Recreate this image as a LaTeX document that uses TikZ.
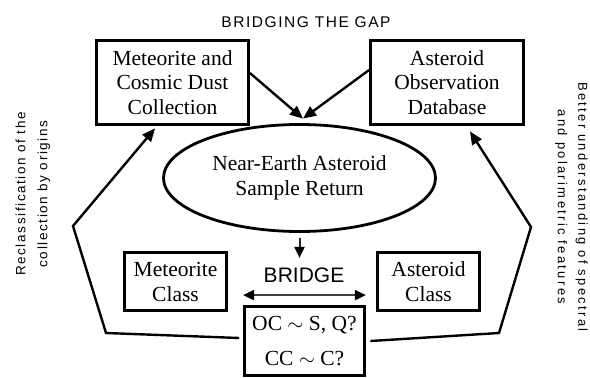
\documentclass[tikz,border=0pt]{standalone}
\usepackage{fontspec}
\setmainfont{Liberation Serif}
\setsansfont{Liberation Sans}
\newfontfamily\spacedtitle[LetterSpace=10]{Liberation Sans}
\newfontfamily\spacedleft[LetterSpace=12]{Liberation Sans}
\newfontfamily\spacedright[LetterSpace=18]{Liberation Sans}
\usetikzlibrary{arrows.meta,shapes.geometric}
\begin{document}
\begin{tikzpicture}[x=1pt,y=-1pt,
  box/.style={draw, line width=2.8pt, inner sep=0pt, align=center,
    font=\fontsize{21.5}{24.5}\selectfont},
  arr/.style={line width=2.4pt, -{Triangle[length=13pt,width=11pt]}},
  smallarr/.style={line width=2pt, black!85, -{Triangle[length=11pt,width=10pt,color=black]}},
  botharr/.style={line width=2pt, black!75,
    {Triangle[length=11pt,width=10pt,color=black]}-{Triangle[length=11pt,width=10pt,color=black]}},
  sidetext/.style={align=center, inner sep=0pt}
]
\useasboundingbox (0,0) rectangle (590,378);

% title
\node[anchor=base, inner sep=0pt, font=\fontsize{15.5}{18}\spacedtitle] (title) at (306,27) {BRIDGING THE GAP};

% top boxes
\node[box, minimum width=152pt, minimum height=84pt] (m1) at (172.5,82.5)
  {Meteorite and\\Cosmic Dust\\Collection};
\node[box, minimum width=153pt, minimum height=84pt] (m2) at (447,82.5)
  {Asteroid\\Observation\\Database};

% ellipse
\node[ellipse, draw, line width=2.8pt, inner sep=0pt, align=center,
  minimum width=272pt, minimum height=107pt,
  font=\fontsize{21.5}{25}\selectfont] (ne) at (299.5,178)
  {Near-Earth Asteroid\\Sample Return};

% class boxes
\node[box, minimum width=102pt, minimum height=58pt,
  font=\fontsize{21.5}{25}\selectfont] (mc) at (175.5,281.5) {Meteorite\\Class};
\node[box, minimum width=102pt, minimum height=58pt,
  font=\fontsize{21.5}{25}\selectfont] (ac) at (428.5,281.5) {Asteroid\\Class};

% OC box
\node[box, minimum width=120pt, minimum height=69pt,
  font=\fontsize{21.5}{35}\selectfont] (oc) at (304.5,341)
  {OC $\sim$ S, Q?\\CC $\sim$ C?};

% BRIDGE label
\node[anchor=base, inner sep=0pt, font=\fontsize{21}{24}\sffamily] (bridge) at (304,282.5) {BRIDGE};

% side texts
\node[sidetext, rotate=90, font=\fontsize{13.5}{22}\spacedleft] (lt) at (33,194)
  {Reclassification of the\\collection by origins};
\node[sidetext, rotate=-90, font=\fontsize{13}{20.5}\spacedright] (rt) at (571.5,207)
  {Better understanding of spectral\\and polarimetric features};

% connectors
\coordinate (meet) at ([xshift=3.5pt,yshift=4.5pt]ne.north);
\draw[arr] ([yshift=9.5pt]m1.east) -- (meet);
\draw[arr] ([yshift=12.5pt]m2.west) -- (meet);

\draw[smallarr] ([yshift=-5.5pt]ne.south) -- ([yshift=-25pt]ne.south);

\draw[botharr] ([yshift=10pt]oc.north west) -- ([yshift=10pt]oc.north east);

\coordinate (lp1) at (106,333);
\coordinate (lp2) at (73,226);
\draw[arr] ([xshift=-4pt,yshift=3pt]oc.west) -- (lp1) -- (lp2) -- ([xshift=-17.5pt,yshift=-2.5pt]m1.south);

\coordinate (rp1) at (499,333);
\coordinate (rp2) at (531,227);
\draw[arr] ([xshift=4.5pt]oc.east) -- (rp1) -- (rp2) -- ([xshift=23pt,yshift=-5.5pt]m2.south);
\end{tikzpicture}
\end{document}
